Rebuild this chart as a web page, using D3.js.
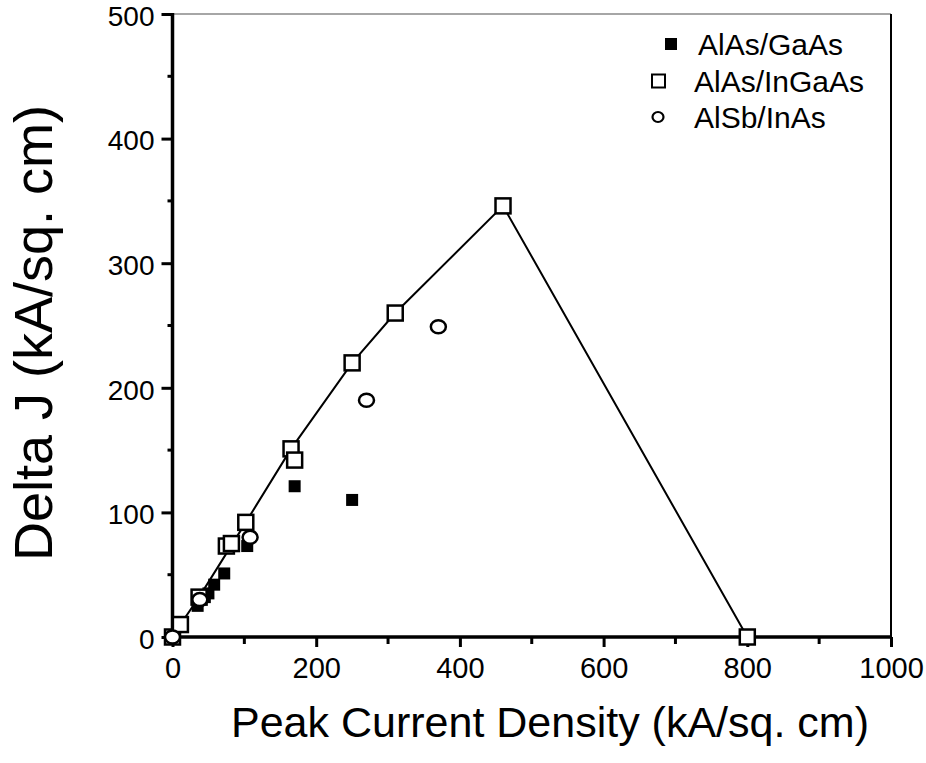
<!DOCTYPE html>
<html><head><meta charset="utf-8">
<script src="https://cdn.jsdelivr.net/npm/d3@7"></script>
<style>body{margin:0;background:#fff;} svg{display:block;} text{font-family:"Liberation Sans",Arial,sans-serif;fill:#000;}</style>
</head><body><svg id="c" width="926" height="763"></svg>
<script>
const gaasX = [35, 45, 50, 58, 72, 104, 170, 250];
const gaasY = [25, 32, 35, 42, 51, 73, 121, 110];
const ingaasX = [0, 11, 37, 75, 82, 102, 165, 170, 250, 310, 460, 800];
const ingaasY = [0, 10, 32, 73, 75, 92, 151, 142, 220, 260, 346, 0];
const insbX = [0, 38, 108, 270, 370];
const insbY = [0, 30, 80, 190, 249];
const lineX = [0, 11, 37, 102, 165, 250, 310, 460, 800];
const lineY = [0, 10, 32, 92, 151, 220, 260, 346, 0];
const xTicks = [0, 200, 400, 600, 800, 1000];
const yTicks = [0, 100, 200, 300, 400, 500];
const legendLabels = ["AlAs/GaAs", "AlAs/InGaAs", "AlSb/InAs"];

const svg = d3.select("#c");
const x = d3.scaleLinear().domain([0, 1000]).range([172.5, 891]);
const y = d3.scaleLinear().domain([0, 500]).range([637, 14]);

// frame top & right
svg.append("line").attr("x1", x(0)).attr("x2", x(1000)).attr("y1", y(500)).attr("y2", y(500))
  .attr("stroke", "#888").attr("stroke-width", 1.5);
svg.append("line").attr("x1", x(1000)).attr("x2", x(1000)).attr("y1", y(500)).attr("y2", y(0))
  .attr("stroke", "#000").attr("stroke-width", 2);

// x axis
const xMinor = d3.range(100, 1000, 200);
const gx = svg.append("g").attr("transform", `translate(0,${y(0)})`);
gx.call(d3.axisBottom(x).tickValues(xTicks).tickSize(10).tickPadding(10).tickFormat(d3.format("d")));
gx.append("g").selectAll("line").data(xMinor).join("line")
  .attr("x1", d => x(d)).attr("x2", d => x(d)).attr("y1", 0).attr("y2", 7)
  .attr("stroke", "#000").attr("stroke-width", 3);
gx.select(".domain").attr("d", `M${x(0) - 2},0H${x(1000) + 1}`).attr("stroke-width", 3.5);
gx.selectAll(".tick line").attr("stroke-width", 3);
gx.selectAll(".tick text").attr("font-size", 29);

// y axis
const yMinor = d3.range(50, 500, 100);
const gy = svg.append("g").attr("transform", `translate(${x(0)},0)`);
gy.call(d3.axisLeft(y).tickValues(yTicks).tickSize(11).tickPadding(7));
gy.append("g").selectAll("line").data(yMinor).join("line")
  .attr("x1", 0).attr("x2", -5).attr("y1", d => y(d)).attr("y2", d => y(d))
  .attr("stroke", "#000").attr("stroke-width", 3);
gy.select(".domain").attr("d", `M0,${y(500) - 1}V${y(0) + 2}`).attr("stroke-width", 3.5);
gy.selectAll(".tick line").attr("stroke-width", 3);
gy.selectAll(".tick text").attr("font-size", 28).attr("dy", "0.4em");

// titles
svg.append("text").attr("x", 550).attr("y", 737).attr("text-anchor", "middle")
  .attr("font-size", 43).text("Peak Current Density (kA/sq. cm)");
svg.append("text").attr("transform", `translate(52,333) rotate(-90)`).attr("text-anchor", "middle")
  .attr("font-size", 54).text("Delta J (kA/sq. cm)");

// line
const pts = lineX.map((v, i) => [x(v), y(lineY[i])]);
svg.append("path").attr("d", d3.line()(pts)).attr("fill", "none").attr("stroke", "#000").attr("stroke-width", 2);

// markers
svg.append("g").selectAll("rect").data(gaasX.map((v, i) => [v, gaasY[i]])).join("rect")
  .attr("x", d => x(d[0]) - 6).attr("y", d => y(d[1]) - 6).attr("width", 12).attr("height", 12).attr("fill", "#000");
svg.append("g").selectAll("rect").data(ingaasX.map((v, i) => [v, ingaasY[i]])).join("rect")
  .attr("x", d => x(d[0]) - 7.5).attr("y", d => y(d[1]) - 7.5).attr("width", 15).attr("height", 15)
  .attr("fill", "#fff").attr("stroke", "#000").attr("stroke-width", 2.5);
svg.append("g").selectAll("ellipse").data(insbX.map((v, i) => [v, insbY[i]])).join("ellipse")
  .attr("cx", d => x(d[0])).attr("cy", d => y(d[1])).attr("rx", 7.5).attr("ry", 6.5)
  .attr("fill", "#fff").attr("stroke", "#000").attr("stroke-width", 2.5);

// legend
const lg = svg.append("g");
const rowY = [44, 81, 117];
lg.append("rect").attr("x", 665).attr("y", rowY[0] - 6).attr("width", 12).attr("height", 12).attr("fill", "#000");
lg.append("rect").attr("x", 652).attr("y", rowY[1] - 6.5).attr("width", 13).attr("height", 13)
  .attr("fill", "#fff").attr("stroke", "#000").attr("stroke-width", 2);
lg.append("ellipse").attr("cx", 658).attr("cy", rowY[2]).attr("rx", 5.5).attr("ry", 5)
  .attr("fill", "#fff").attr("stroke", "#000").attr("stroke-width", 2.2);
lg.selectAll("text").data(legendLabels).join("text")
  .attr("x", (d, i) => i === 0 ? 698 : 694).attr("y", (d, i) => rowY[i]).attr("dy", "0.36em")
  .attr("font-size", 30).text(d => d);
</script></body></html>
